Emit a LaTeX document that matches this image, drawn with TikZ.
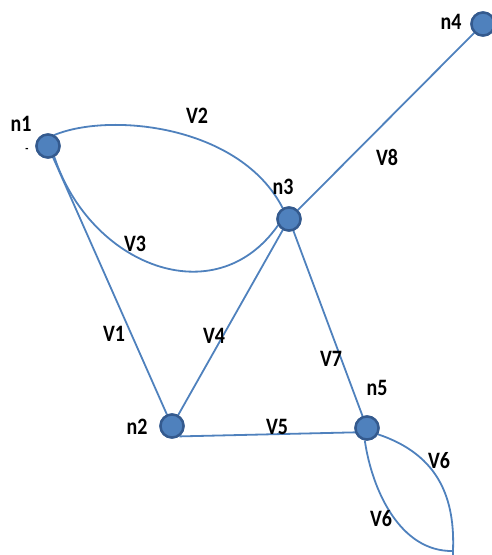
\documentclass[tikz,border=0pt]{standalone}
\usepackage{fontspec}
\setmainfont{Carlito}[FakeStretch=0.85]
\begin{document}
\begin{tikzpicture}[x=1pt,y=-1pt,
  edge/.style={draw=edgeblue,line width=1.8pt},
  vert/.style={circle,draw=nodeborder,line width=2.4pt,fill=nodefill,minimum size=23pt,inner sep=0pt},
  lab/.style={font=\fontsize{23.5}{23.5}\selectfont\bfseries,text=black,inner sep=0pt}]
\definecolor{edgeblue}{RGB}{79,129,189}
\definecolor{nodefill}{RGB}{79,129,189}
\definecolor{nodeborder}{RGB}{52,90,142}
\useasboundingbox (0,0) rectangle (492,555);
% node positions
\coordinate (p1) at (48,146);
\coordinate (p2) at (172,426);
\coordinate (p3) at (289,219);
\coordinate (p4) at (483,24);
\coordinate (p5) at (367,428);
\node[vert] (n1) at (p1) {};
\node[vert] (n2) at (p2) {};
\node[vert] (n3) at (p3) {};
\node[vert] (n4) at (p4) {};
\node[vert] (n5) at (p5) {};
\coordinate (m) at (453,551);
% edges
\draw[edge] (n1.60) .. controls (110,112) and (240,125) .. (n3.120);
\draw[edge] (n1.-60) .. controls (90,265) and (215,315) .. (n3.-150);
\draw[edge] (n1) -- (n2);
\draw[edge] (n2) -- (n3);
\draw[edge] (n2.-55) -- (n5.-160);
\draw[edge] (n3) -- (n5);
\draw[edge] (n3) -- (n4);
\draw[edge] (n5.-30) .. controls (440,455) and (455,500) .. (m);
\draw[edge] (n5.-100) .. controls (372,490) and (400,552) .. (m);
\draw[edgeblue,line width=1.2pt] (m) -- ++(0,5);
% nodes on top of the edges
\foreach \p in {p1,p2,p3,p4,p5}
  \node[vert] at (\p) {};
% labels
\node[lab] (ln1) at (21,124) {n1};
\node[lab,font=\fontsize{12}{12}\selectfont\bfseries] (ldash) at (27,150) {-};
\node[lab] (ln2) at (137,427) {n2};
\node[lab] (ln3) at (283,187) {n3};
\node[lab] (ln4) at (451,22) {n4};
\node[lab] (ln5) at (377,388) {n5};
\node[lab] (lv1) at (114,334) {V1};
\node[lab] (lv2) at (197,116) {V2};
\node[lab] (lv3) at (135,244) {V3};
\node[lab] (lv4) at (214,336) {V4};
\node[lab] (lv5) at (277,427) {V5};
\node[lab] (lv6a) at (439,461) {V6};
\node[lab] (lv6b) at (381,519) {V6};
\node[lab] (lv7) at (331,359) {V7};
\node[lab] (lv8) at (387,157) {V8};
\end{tikzpicture}
\end{document}
